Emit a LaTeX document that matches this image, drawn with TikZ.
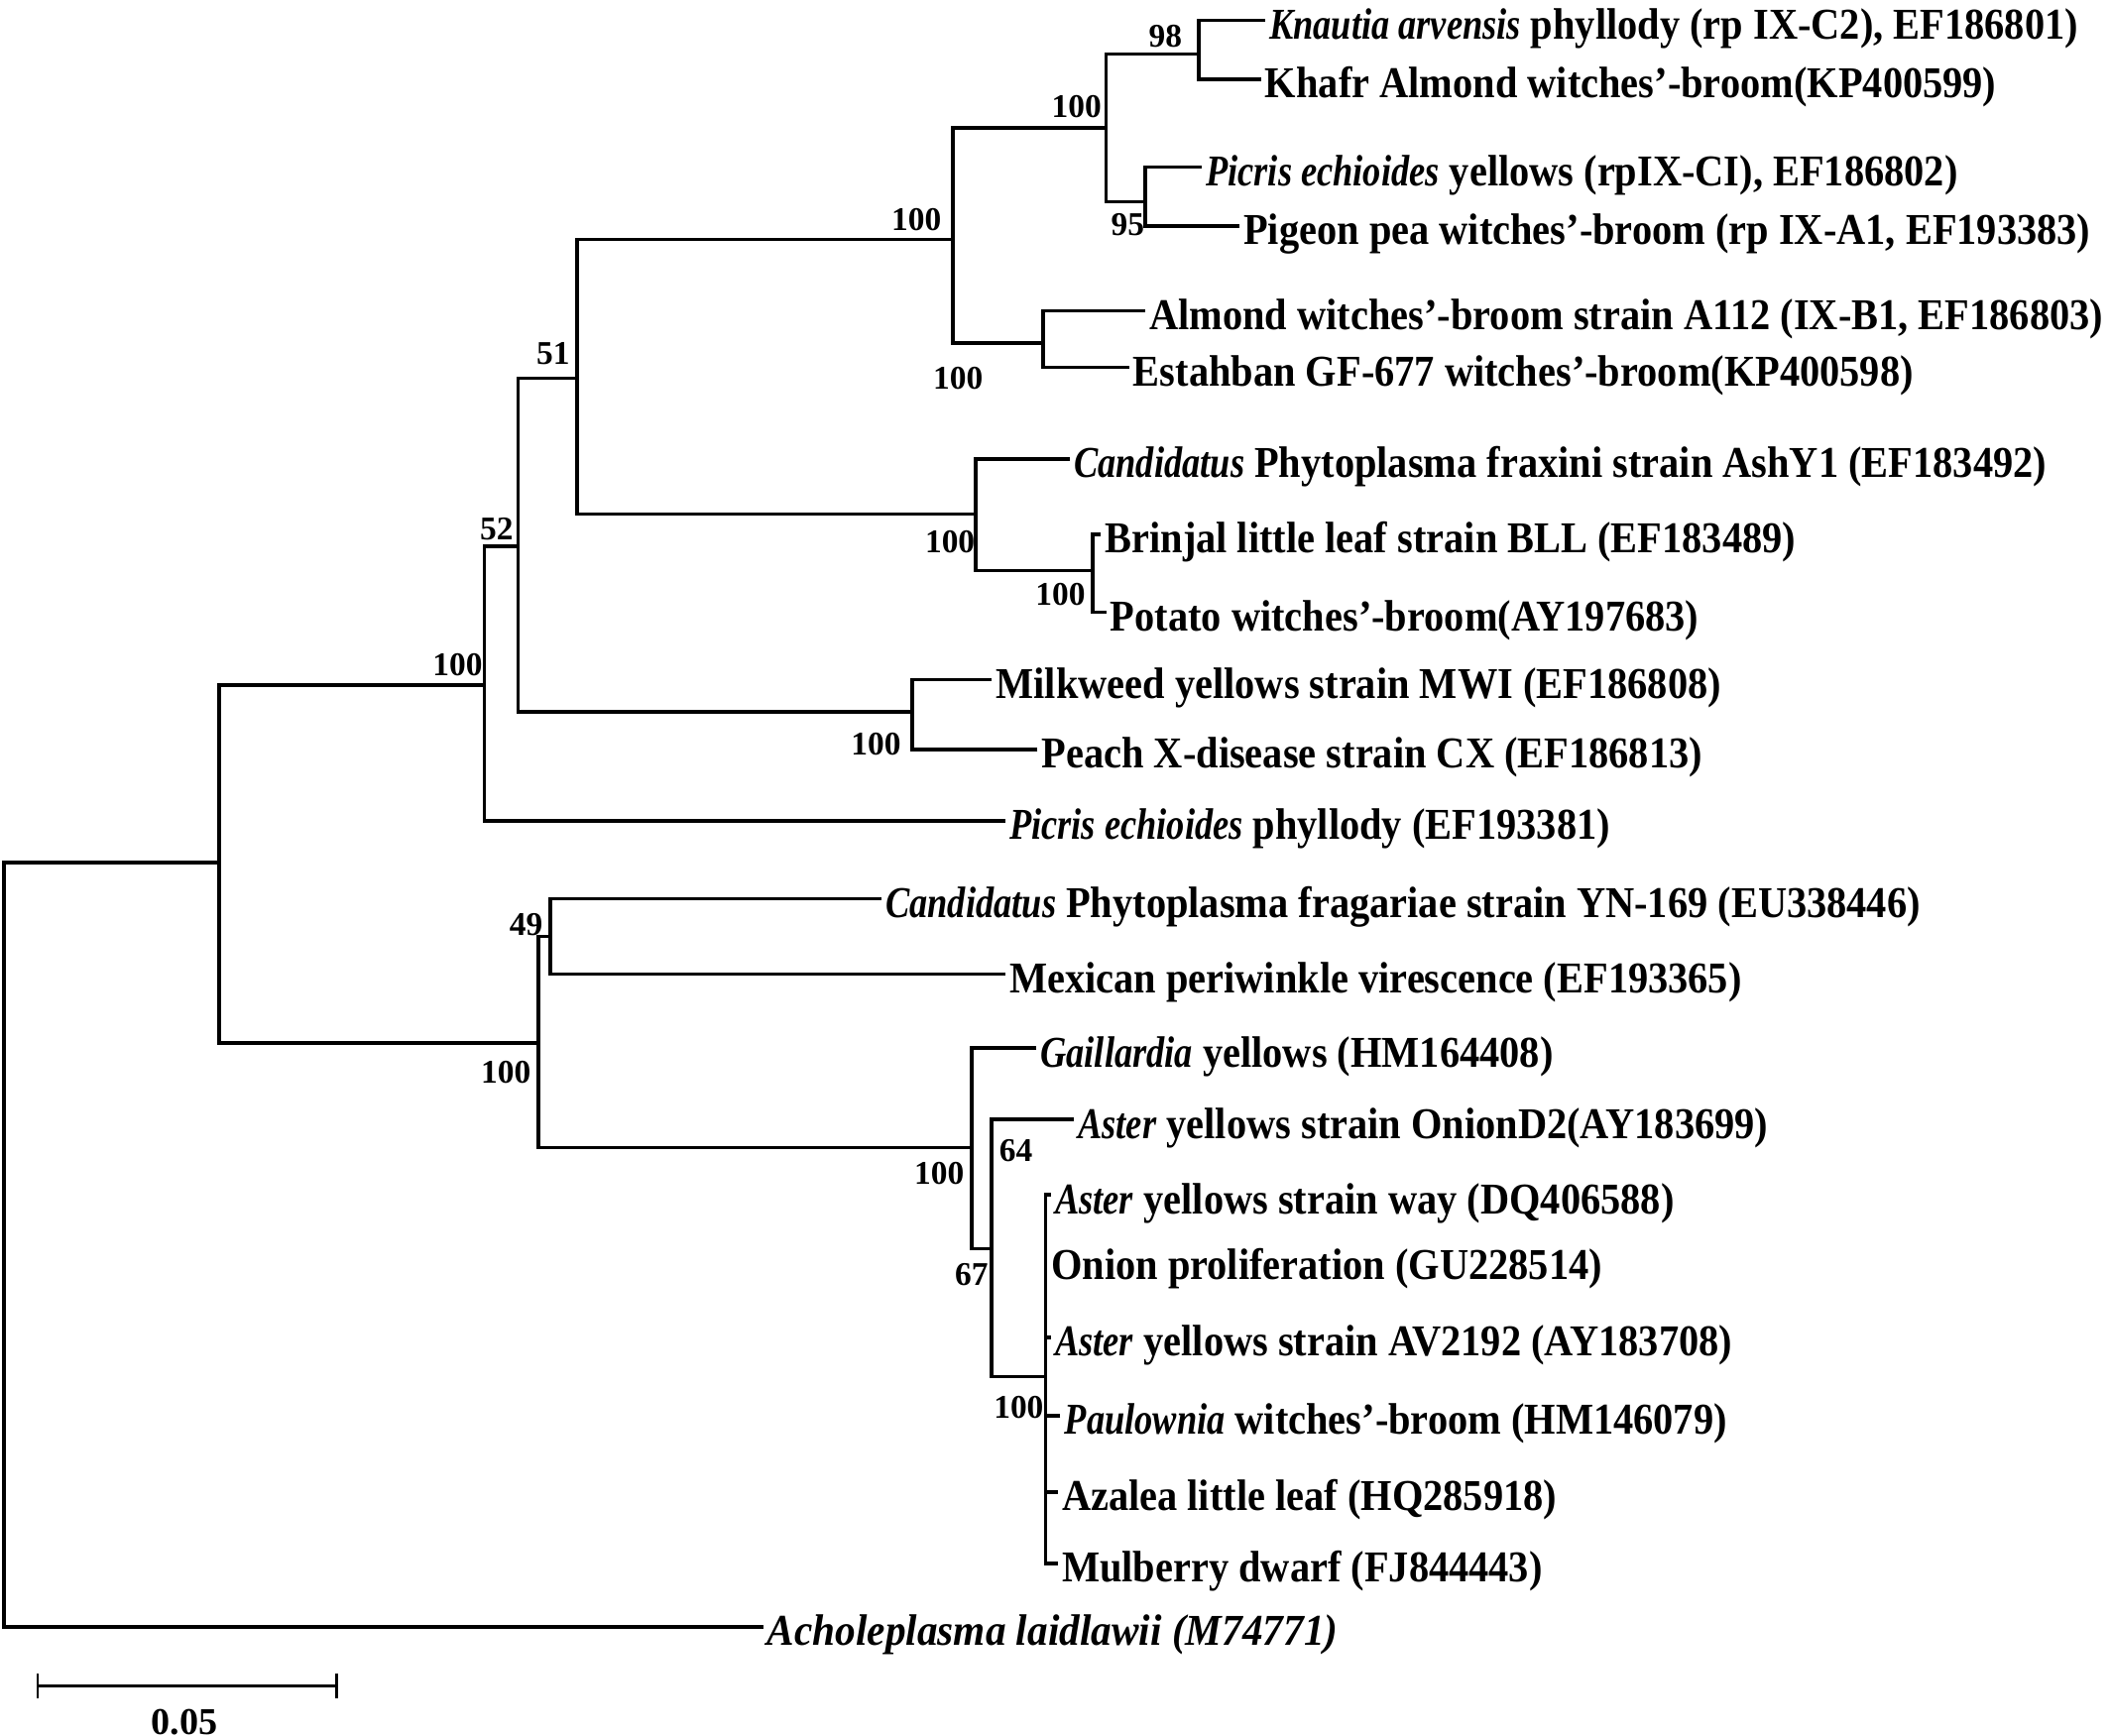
\documentclass[tikz,border=0pt]{standalone}
\usepackage{fontspec}
\setmainfont[FakeStretch=0.91,BoldItalicFeatures={FakeStretch=0.82}]{Liberation Serif}
\newfontfamily\bsfont{Liberation Serif}
\newfontfamily\acholfont[FakeStretch=0.93]{Liberation Serif}
\begin{document}
\begin{tikzpicture}[x=0.01cm,y=-0.01cm,
  br/.style={line width=0.75pt},
  leaf/.style={anchor=west,inner xsep=0.025cm,inner ysep=0pt,text height=7.9pt,text depth=0pt,
    font=\fontsize{9.3}{10}\selectfont\bfseries},
  bs/.style={inner sep=0pt,font=\bsfont\fontsize{7}{8}\selectfont\bfseries}]
\path[use as bounding box] (0,0) rectangle (1568,1290);
% leaves
\node[leaf] (knautia)  at (940,15)   {\textit{Knautia arvensis} phyllody (rp IX-C2), EF186801)};
\node[leaf] (khafr)    at (937,59)   {Khafr Almond witches'-broom(KP400599)};
\node[leaf] (picrisY)  at (893,124)  {\textit{Picris echioides} yellows (rpIX-CI), EF186802)};
\node[leaf] (pigeon)   at (921,168)  {Pigeon pea witches'-broom (rp IX-A1, EF193383)};
\node[leaf] (almond)   at (851,231)  {Almond witches'-broom strain A112 (IX-B1, EF186803)};
\node[leaf] (estahban) at (839,273)  {Estahban GF-677 witches'-broom(KP400598)};
\node[leaf] (candfrax) at (795,341)  {\textit{Candidatus} Phytoplasma fraxini strain AshY1 (EF183492)};
\node[leaf] (brinjal)  at (818,397)  {Brinjal little leaf strain BLL (EF183489)};
\node[leaf] (potato)   at (822,455)  {Potato witches'-broom(AY197683)};
\node[leaf] (milkweed) at (737,505)  {Milkweed yellows strain MWI (EF186808)};
\node[leaf] (peach)    at (771,557)  {Peach X-disease strain CX (EF186813)};
\node[leaf] (picrisP)  at (747,610)  {\textit{Picris echioides} phyllody (EF193381)};
\node[leaf] (candfrag) at (655,668)  {\textit{Candidatus} Phytoplasma fragariae strain YN-169 (EU338446)};
\node[leaf] (mexican)  at (747,724)  {Mexican periwinkle virescence (EF193365)};
\node[leaf] (gaill)    at (770,779)  {\textit{Gaillardia} yellows (HM164408)};
\node[leaf] (onionD)   at (798,832)  {\textit{Aster} yellows strain OnionD2(AY183699)};
\node[leaf] (asterway) at (781,888)  {\textit{Aster} yellows strain way (DQ406588)};
\node[leaf] (onionpr)  at (778,937)  {Onion proliferation (GU228514)};
\node[leaf] (avtt)     at (781,994)  {\textit{Aster} yellows strain AV2192 (AY183708)};
\node[leaf] (paulow)   at (788,1052) {\textit{Paulownia} witches'-broom (HM146079)};
\node[leaf] (azalea)   at (786,1109) {Azalea little leaf (HQ285918)};
\node[leaf] (mulberry) at (786,1162) {Mulberry dwarf (FJ844443)};
\node[leaf,font=\acholfont\fontsize{9.3}{10}\selectfont\bfseries\itshape] (achol) at (567,1209) {Acholeplasma laidlawii (M74771)};
% internal nodes
\coordinate (nA) at (891,40);
\coordinate (nB) at (851,150);
\coordinate (nC) at (822,95);
\coordinate (nD) at (708,178);
\coordinate (nE) at (775,255);
\coordinate (nF) at (429,281);
\coordinate (nG) at (725,382);
\coordinate (nH) at (812,424);
\coordinate (nI) at (678,529);
\coordinate (nJ) at (385,406);
\coordinate (nK) at (360,509);
\coordinate (nL) at (163,641);
\coordinate (root) at (3,925);
\coordinate (nM) at (400,775);
\coordinate (nN) at (409,696);
\coordinate (nO) at (722,853);
\coordinate (nP) at (737,928);
\coordinate (nQ) at (777,1023);
% branches
\foreach \c/\p in {knautia.west/nA,khafr.west/nA,picrisY.west/nB,pigeon.west/nB,
  nA/nC,nB/nC,nC/nD,nE/nD,almond.west/nE,estahban.west/nE,nD/nF,nG/nF,
  candfrax.west/nG,nH/nG,brinjal.west/nH,potato.west/nH,milkweed.west/nI,peach.west/nI,
  nF/nJ,nI/nJ,nJ/nK,picrisP.west/nK,nK/nL,nM/nL,nL/root,achol.west/root,
  nN/nM,nO/nM,candfrag.west/nN,mexican.west/nN,gaill.west/nO,nP/nO,
  onionD.west/nP,nQ/nP,asterway.west/nQ,onionpr.west/nQ,avtt.west/nQ,
  paulow.west/nQ,azalea.west/nQ,mulberry.west/nQ}
  \draw[br] (\c) -| (\p);
% bootstrap values
\node[bs] (b98)  at (866,27)  {98};
\node[bs] (bC)   at (800,79)  {100};
\node[bs] (b95)  at (838,167) {95};
\node[bs] (bD)   at (681,163) {100};
\node[bs] (bE)   at (712,281) {100};
\node[bs] (b51)  at (411,263) {51};
\node[bs] (bG)   at (706,403) {100};
\node[bs] (bH)   at (788,442) {100};
\node[bs] (b52)  at (369,393) {52};
\node[bs] (bI)   at (651,553) {100};
\node[bs] (bK)   at (340,494) {100};
\node[bs] (b49)  at (391,687) {49};
\node[bs] (bM)   at (376,797) {100};
\node[bs] (bO)   at (698,872) {100};
\node[bs] (b64)  at (755,855) {64};
\node[bs] (b67)  at (722,947) {67};
\node[bs] (bQ)   at (757,1046) {100};
% scale bar
\coordinate (sbL) at (28,1253);
\coordinate (sbR) at (250,1253);
\draw[line width=0.6pt] (sbL) -- (sbR);
\draw[line width=0.6pt] ([yshift=0.09cm]sbL) -- ([yshift=-0.09cm]sbL);
\draw[line width=0.6pt] ([yshift=0.09cm]sbR) -- ([yshift=-0.09cm]sbR);
\node[bs,font=\bsfont\fontsize{8}{9}\selectfont\bfseries] (sblab) at (137,1280) {0.05};
\end{tikzpicture}
\end{document}
